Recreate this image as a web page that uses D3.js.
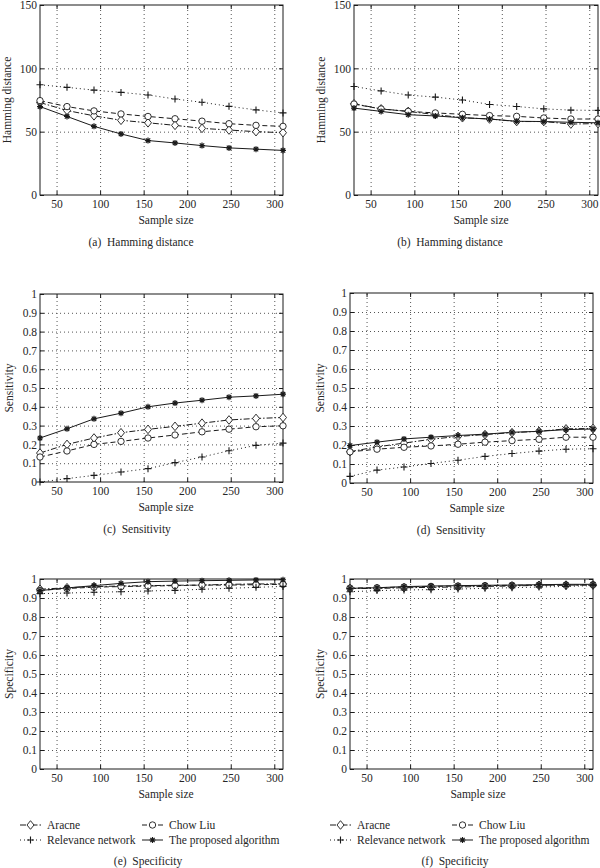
<!DOCTYPE html>
<html>
<head>
<meta charset="utf-8">
<script src="https://cdn.jsdelivr.net/npm/d3@7"></script>
<style>
    body { margin: 0; background: #fff; }
    svg text { font-family: "Liberation Serif", "DejaVu Serif", serif; fill: #262626; white-space: pre; }
</style>
</head>
<body>
<svg id="chart" width="600" height="868"></svg>
<script>
// Sample sizes on the x axis and tick labels
const sampleSizes = [31, 62, 93, 124, 155, 186, 217, 248, 279, 310];
const xTicks = [50, 100, 150, 200, 250, 300];
const hammingTicks = [0, 50, 100, 150];
const rateTicks = [0, 0.1, 0.2, 0.3, 0.4, 0.5, 0.6, 0.7, 0.8, 0.9, 1];

const seriesNames = ['Aracne', 'Chow Liu', 'Relevance network', 'The proposed algorithm'];

// Values per panel, in the order of seriesNames
const hammingA = [
    [73, 66.7, 62.5, 59, 57, 55, 52.6, 51.3, 50, 49.2],
    [74.5, 69.8, 66.4, 64, 62, 60.2, 58.3, 56.3, 55, 54.2],
    [87, 85, 82.8, 81, 79, 75.8, 73.2, 70, 67.2, 64.8],
    [69.8, 62, 54.2, 48.2, 43, 41.1, 39, 37.2, 36.2, 35.2]
];
const hammingB = [
    [72, 68, 66, 63.5, 61, 60, 58, 58, 56, 56.4],
    [71.8, 67.9, 66, 64.8, 63.7, 62.7, 62.1, 60.8, 60, 60],
    [85.6, 82.2, 78.9, 77.3, 75, 71.5, 69.9, 68, 67, 66.8],
    [68.6, 66, 63.4, 62.4, 61, 60, 58.2, 58, 57.4, 57]
];
const sensitivityC = [
    [0.154, 0.2, 0.234, 0.262, 0.28, 0.296, 0.313, 0.33, 0.338, 0.343],
    [0.133, 0.165, 0.2, 0.216, 0.234, 0.25, 0.267, 0.281, 0.294, 0.299],
    [0, 0.018, 0.035, 0.053, 0.071, 0.103, 0.133, 0.166, 0.195, 0.207],
    [0.234, 0.283, 0.336, 0.366, 0.4, 0.42, 0.435, 0.451, 0.458, 0.467]
];
const sensitivityD = [
    [0.165, 0.19, 0.21, 0.23, 0.245, 0.255, 0.265, 0.272, 0.285, 0.287],
    [0.164, 0.178, 0.188, 0.195, 0.204, 0.215, 0.223, 0.23, 0.241, 0.241],
    [0.035, 0.068, 0.084, 0.103, 0.12, 0.14, 0.155, 0.168, 0.178, 0.18],
    [0.197, 0.215, 0.232, 0.241, 0.25, 0.257, 0.267, 0.272, 0.281, 0.284]
];
const specificityE = [
    [0.946, 0.954, 0.96, 0.963, 0.965, 0.967, 0.968, 0.972, 0.974, 0.974],
    [0.94, 0.95, 0.957, 0.96, 0.963, 0.965, 0.968, 0.968, 0.97, 0.972],
    [0.923, 0.926, 0.93, 0.933, 0.937, 0.94, 0.946, 0.951, 0.956, 0.961],
    [0.939, 0.953, 0.965, 0.977, 0.986, 0.989, 0.991, 0.993, 0.995, 0.996]
];
const specificityF = [
    [0.95, 0.95, 0.954, 0.956, 0.958, 0.961, 0.963, 0.967, 0.968, 0.968],
    [0.952, 0.954, 0.958, 0.961, 0.963, 0.965, 0.967, 0.968, 0.968, 0.97],
    [0.933, 0.939, 0.942, 0.944, 0.947, 0.951, 0.954, 0.958, 0.961, 0.965],
    [0.951, 0.954, 0.96, 0.963, 0.965, 0.967, 0.968, 0.97, 0.972, 0.972]
];

// Line and marker styles per series
const dashes = ['6,2,1.5,2', '5,3', '1,3', null];
const markers = ['diamond', 'circle', 'plus', 'star'];

const panels = [
    {data: hammingA, yDomain: [0, 150], yTicks: hammingTicks, yLabel: 'Hamming distance',
     caption: '(a)  Hamming distance', box: [40, 5, 283, 195], yLabelX: 11, captionX: 141, xLabelX: 166},
    {data: hammingB, yDomain: [0, 150], yTicks: hammingTicks, yLabel: 'Hamming distance',
     caption: '(b)  Hamming distance', box: [354, 5, 598, 195], yLabelX: 325, captionX: 450, xLabelX: 481},
    {data: sensitivityC, yDomain: [0, 1], yTicks: rateTicks, yLabel: 'Sensitivity',
     caption: '(c)  Sensitivity', box: [40, 294, 283, 482], yLabelX: 13, captionX: 137, xLabelX: 166},
    {data: sensitivityD, yDomain: [0, 1], yTicks: rateTicks, yLabel: 'Sensitivity',
     caption: '(d)  Sensitivity', box: [350, 293, 593, 483], yLabelX: 324, captionX: 451, xLabelX: 477},
    {data: specificityE, yDomain: [0, 1], yTicks: rateTicks, yLabel: 'Specificity',
     caption: '(e)  Specificity', box: [40, 579, 283, 769], yLabelX: 13, captionX: 148, xLabelX: 166,
     legend: {x1: 20, x2: 142}},
    {data: specificityF, yDomain: [0, 1], yTicks: rateTicks, yLabel: 'Specificity',
     caption: '(f)  Specificity', box: [350, 579, 593, 769], yLabelX: 324, captionX: 455, xLabelX: 478,
     legend: {x1: 330, x2: 452}}
];

const svg = d3.select('#chart');
const ink = '#1a1a1a';

function drawMarker(g, type, cx, cy) {
    if (type === 'diamond') {
        g.append('path')
            .attr('d', `M${cx},${cy - 4.3}L${cx + 3.5},${cy}L${cx},${cy + 4.3}L${cx - 3.5},${cy}Z`)
            .attr('fill', '#fff').attr('stroke', ink).attr('stroke-width', 0.9);
    } else if (type === 'circle') {
        g.append('circle').attr('cx', cx).attr('cy', cy).attr('r', 3.2)
            .attr('fill', '#fff').attr('stroke', ink).attr('stroke-width', 0.9);
    } else if (type === 'plus') {
        g.append('path')
            .attr('d', `M${cx - 3.5},${cy}H${cx + 3.5}M${cx},${cy - 3.5}V${cy + 3.5}`)
            .attr('stroke', ink).attr('stroke-width', 1.1);
    } else {
        g.append('path')
            .attr('d', `M${cx - 3},${cy}H${cx + 3}M${cx},${cy - 3}V${cy + 3}` +
                `M${cx - 2.2},${cy - 2.2}L${cx + 2.2},${cy + 2.2}M${cx - 2.2},${cy + 2.2}L${cx + 2.2},${cy - 2.2}`)
            .attr('stroke', ink).attr('stroke-width', 1.2);
    }
}

panels.forEach(p => {
    const [left, top, right, bottom] = p.box;
    const width = right - left;
    const height = bottom - top;

    const g = svg.append('g').attr('transform', `translate(${left},${top})`);

    const x = d3.scaleLinear().domain([31, 310]).range([0, width]);
    const y = d3.scaleLinear().domain(p.yDomain).range([height, 0]);

    // Dotted grid
    g.append('g')
        .attr('transform', `translate(0,${height})`)
        .call(d3.axisBottom(x).tickValues(xTicks).tickSize(-height).tickFormat(''))
        .call(a => a.select('.domain').remove())
        .selectAll('line').attr('stroke', '#555').attr('stroke-dasharray', '1,3');
    g.append('g')
        .call(d3.axisLeft(y).tickValues(p.yTicks.slice(1, -1)).tickSize(-width).tickFormat(''))
        .call(a => a.select('.domain').remove())
        .selectAll('line').attr('stroke', '#555').attr('stroke-dasharray', '1,3');

    // Axes with inward ticks on all four sides
    const fmt = d => String(d);
    g.append('g')
        .attr('transform', `translate(0,${height})`)
        .call(d3.axisBottom(x).tickValues(xTicks).tickSize(-4).tickPadding(5).tickFormat(fmt))
        .call(a => a.select('.domain').remove());
    g.append('g')
        .call(d3.axisTop(x).tickValues(xTicks).tickSize(-4).tickFormat(''))
        .call(a => a.select('.domain').remove());
    g.append('g')
        .call(d3.axisLeft(y).tickValues(p.yTicks).tickSize(-4).tickPadding(3).tickFormat(fmt))
        .call(a => a.select('.domain').remove());
    g.append('g')
        .attr('transform', `translate(${width},0)`)
        .call(d3.axisRight(y).tickValues(p.yTicks).tickSize(-4).tickFormat(''))
        .call(a => a.select('.domain').remove());

    g.selectAll('.tick line').filter(function () { return !this.getAttribute('stroke-dasharray'); })
        .attr('stroke', ink);
    g.selectAll('.tick text')
        .attr('font-family', '"Liberation Serif", serif')
        .attr('font-size', 11.5)
        .attr('fill', '#262626');

    g.append('rect')
        .attr('width', width).attr('height', height)
        .attr('fill', 'none').attr('stroke', ink).attr('stroke-width', 1);

    // Series
    const line = d3.line()
        .x((d, i) => x(sampleSizes[i]))
        .y(d => y(d));

    p.data.forEach((vals, s) => {
        g.append('path')
            .datum(vals)
            .attr('fill', 'none')
            .attr('stroke', ink)
            .attr('stroke-width', 1)
            .attr('stroke-dasharray', dashes[s])
            .attr('d', line);
    });
    p.data.forEach((vals, s) => {
        vals.forEach((v, i) => drawMarker(g, markers[s], x(sampleSizes[i]), y(v)));
    });

    // Labels
    svg.append('text')
        .attr('x', p.xLabelX).attr('y', bottom + 29)
        .attr('text-anchor', 'middle').attr('font-size', 11.5)
        .text('Sample size');
    svg.append('text')
        .attr('transform', `translate(${p.yLabelX},${(top + bottom) / 2}) rotate(-90)`)
        .attr('text-anchor', 'middle').attr('font-size', 11.5)
        .text(p.yLabel);

    let captionY = bottom + 51;
    if (p.legend) {
        const rows = [bottom + 56, bottom + 71];
        const spots = [
            [p.legend.x1, rows[0]], [p.legend.x2, rows[0]],
            [p.legend.x1, rows[1]], [p.legend.x2, rows[1]]
        ];
        seriesNames.forEach((name, s) => {
            const [lx, ly] = spots[s];
            const lg = svg.append('g');
            lg.append('line')
                .attr('x1', lx).attr('x2', lx + 21).attr('y1', ly).attr('y2', ly)
                .attr('stroke', ink).attr('stroke-width', 1)
                .attr('stroke-dasharray', dashes[s]);
            drawMarker(lg, markers[s], lx + 10.5, ly);
            lg.append('text')
                .attr('x', lx + 27).attr('y', ly + 4)
                .attr('font-size', 11.5)
                .text(name);
        });
        captionY = bottom + 96;
    }

    svg.append('text')
        .attr('x', p.captionX).attr('y', captionY)
        .attr('text-anchor', 'middle').attr('font-size', 11.5)
        .text(p.caption);
});
</script>
</body>
</html>
